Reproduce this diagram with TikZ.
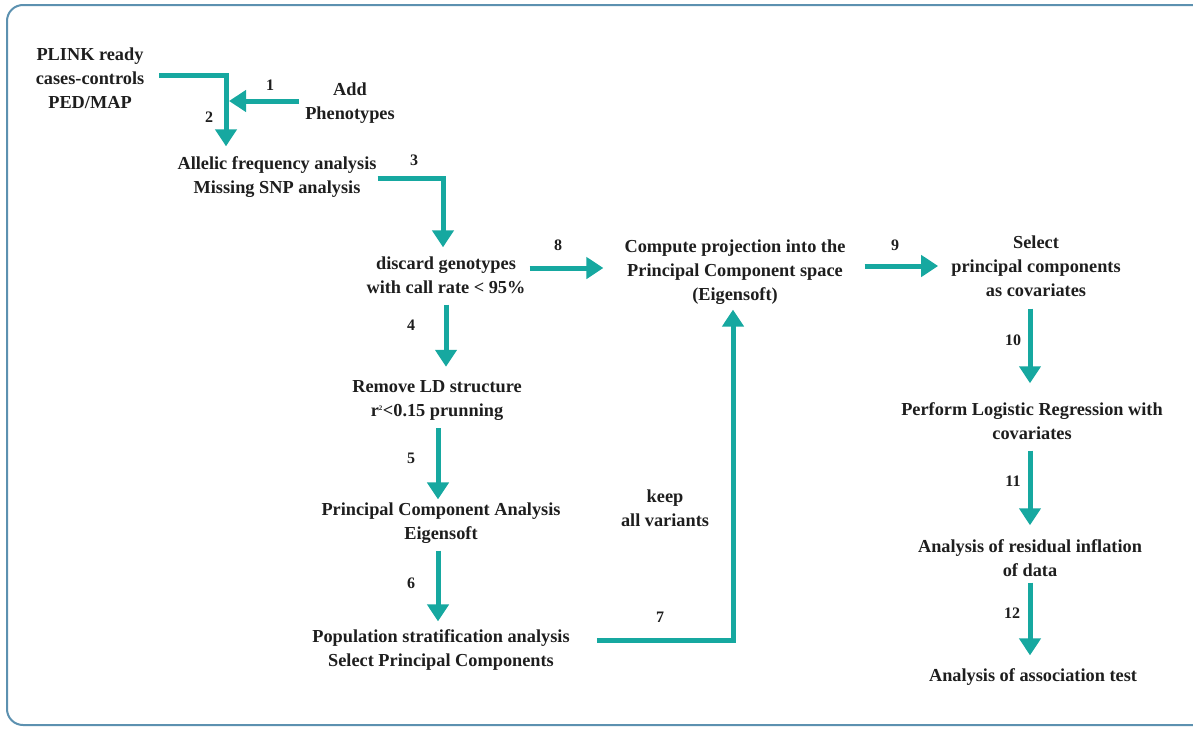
\documentclass[tikz,border=0pt]{standalone}
\usepackage{fontspec}
\setmainfont{Liberation Serif}
\usetikzlibrary{arrows.meta,calc}
\definecolor{teal1}{RGB}{22,168,160}
\definecolor{frame1}{RGB}{92,145,176}
\definecolor{ink}{RGB}{30,30,30}
\tikzset{
  txt/.style={align=center, inner sep=0pt, text=ink, font=\bfseries\fontsize{18.3}{24}\selectfont},
  num/.style={inner sep=0pt, text=ink, font=\bfseries\fontsize{16}{18}\selectfont},
  arr/.style={draw=teal1, line width=5pt, line join=miter, -{Triangle[width=21pt,length=17pt]}, fill=none},
}
\begin{document}
\begin{tikzpicture}[x=1pt,y=-1pt]
\useasboundingbox (0,0) rectangle (1193,728);
\draw[frame1, line width=2pt, rounded corners=16pt] (7,5) rectangle (1210,725);

% nodes
\node[txt] (plink) at (90,78) {PLINK ready\\cases-controls\\PED/MAP};
\node[txt] (add) at (350,103.5) {Add\\Phenotypes};
\node[txt] (allelic) at (277,177) {Allelic frequency analysis\\Missing SNP analysis};
\node[txt] (discard) at (446,275) {discard genotypes\\with call rate < 95\%};
\node[txt] (compute) at (735,272) {Compute projection into the\\Principal Component space\\(Eigensoft)};
\node[txt] (select) at (1036,266) {Select\\principal components\\as covariates};
\node[txt] (perform) at (1032,421) {Perform Logistic Regression with\\covariates};
\node[txt] (resid) at (1030,558) {Analysis of residual inflation\\of data};
\node[txt] (assoc) at (1033,677) {Analysis of association test};
\node[txt] (remove) at (437,401) {Remove LD structure\\r\textsuperscript{\scriptsize 2}<0.15 prunning};
\node[txt] (pca) at (441,523) {Principal Component Analysis\\Eigensoft};
\node[txt] (pop) at (441,650) {Population stratification analysis\\Select Principal Components};
\node[txt] (keep) at (665,508) {keep\\all variants};

% connectors
\draw[arr] ($(plink.east |- 0,75)+(15,0)$) -| ($(allelic.north -| 226,0)+(0,-10)$);
\draw[arr] ($(add.west |- 0,101)+(-6,0)$) -- (229,101);
\draw[arr] ($(allelic.east |- 0,178)+(1,0)$) -| ($(discard.north -| 443,0)+(0,-9)$);
\draw[arr] ($(discard.south -| 446,0)+(0,11)$) -- ($(remove.north -| 446,0)+(0,-14)$);
\draw[arr] ($(discard.east |- 0,268)+(4,0)$) -- ($(compute.west |- 0,268)+(-21,0)$);
\draw[arr] ($(compute.east |- 0,266)+(19,0)$) -- ($(select.west |- 0,266)+(-13,0)$);
\draw[arr] ($(select.south -| 1030,0)+(0,12)$) -- ($(perform.north -| 1030,0)+(0,-19)$);
\draw[arr] ($(perform.south -| 1030,0)+(0,11)$) -- ($(resid.north -| 1030,0)+(0,-14)$);
\draw[arr] ($(resid.south -| 1030,0)+(0,6)$) -- ($(assoc.north -| 1030,0)+(0,-13)$);
\draw[arr] ($(remove.south -| 438,0)+(0,7)$) -- ($(pca.north -| 438,0)+(0,-3)$);
\draw[arr] ($(pca.south -| 438,0)+(0,7)$) -- ($(pop.north -| 438,0)+(0,-8)$);
\draw[arr] ($(pop.east |- 0,640)+(27,0)$) -| ($(compute.south -| 733,0)+(0,5)$);

% step numbers
\node[num] (n1) at (270,85) {1};
\node[num] (n2) at (209,117) {2};
\node[num] (n3) at (414,160) {3};
\node[num] (n4) at (411,325) {4};
\node[num] (n5) at (411,458) {5};
\node[num] (n6) at (411,583) {6};
\node[num] (n7) at (660,617) {7};
\node[num] (n8) at (558,245) {8};
\node[num] (n9) at (895,245) {9};
\node[num] (n10) at (1013,340) {10};
\node[num] (n11) at (1013,481) {11};
\node[num] (n12) at (1012,613) {12};
\end{tikzpicture}
\end{document}
